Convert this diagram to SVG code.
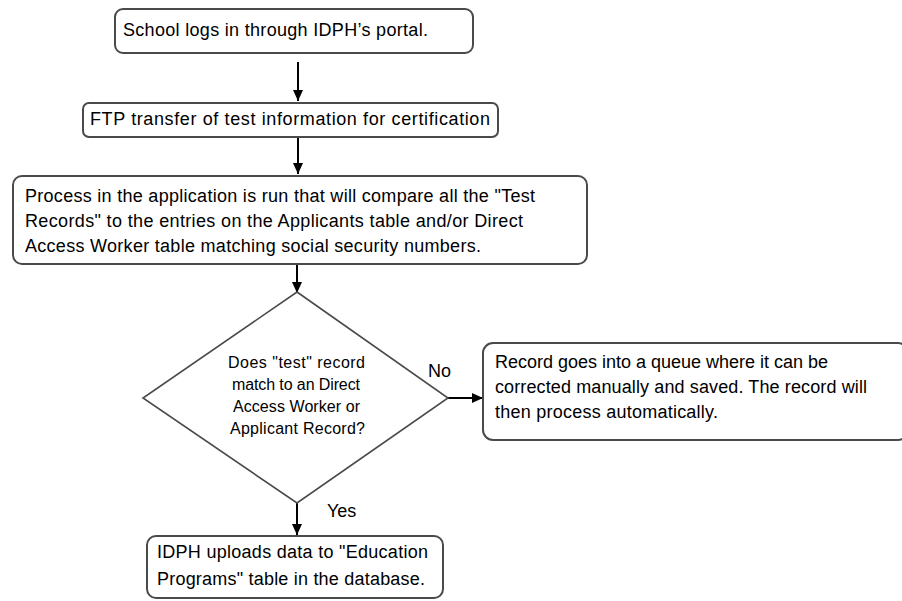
<svg xmlns="http://www.w3.org/2000/svg" width="902" height="601" viewBox="0 0 902 601">
  <style>
    .box { fill: #ffffff; stroke: #4a4a4a; stroke-width: 2; }
    .diamond { fill: #ffffff; stroke: #4a4a4a; stroke-width: 1.6; }
    .txt { font-family: "Liberation Sans", Arial, sans-serif; font-size: 18px; fill: #000000; }
    .small { font-size: 16px; }
    .link { stroke: #000000; stroke-width: 2; fill: none; marker-end: url(#arrow); }
  </style>
  <defs>
    <marker id="arrow" markerWidth="12" markerHeight="12" refX="11" refY="6" orient="auto" markerUnits="userSpaceOnUse">
      <path d="M0,1 L11,6 L0,11 Z" fill="#000000"/>
    </marker>
  </defs>
  <rect width="902" height="601" fill="#ffffff"/>

  <g id="connectors">
    <line class="link" x1="298" y1="62" x2="298" y2="101"/>
    <line class="link" x1="298" y1="137" x2="298" y2="174"/>
    <line class="link" x1="297" y1="265" x2="297" y2="293"/>
    <line class="link" x1="448" y1="398" x2="483" y2="398"/>
    <line class="link" x1="297" y1="503" x2="297" y2="535"/>
    <text class="txt" x="428" y="377">No</text>
    <text class="txt" x="327" y="517">Yes</text>
  </g>

  <g id="login">
    <rect class="box" x="115" y="9" width="358" height="44" rx="8"/>
    <text class="txt" x="123" y="36" textLength="305" lengthAdjust="spacing">School logs in through IDPH’s portal.</text>
  </g>

  <g id="ftp">
    <rect class="box" x="83" y="103" width="415" height="34" rx="6"/>
    <text class="txt" x="90" y="125" textLength="400" lengthAdjust="spacing">FTP transfer of test information for certification</text>
  </g>

  <g id="compare">
    <rect class="box" x="13" y="176" width="574" height="88" rx="9"/>
    <text class="txt" x="25" y="202" textLength="510" lengthAdjust="spacing">Process in the application is run that will compare all the "Test</text>
    <text class="txt" x="25" y="227" textLength="498" lengthAdjust="spacing">Records" to the entries on the Applicants table and/or Direct</text>
    <text class="txt" x="25" y="252" textLength="456" lengthAdjust="spacing">Access Worker table matching social security numbers.</text>
  </g>

  <g id="decision">
    <polygon class="diamond" points="297,292 448,398 297,503 143,398"/>
    <text class="txt small" x="228" y="368" textLength="137" lengthAdjust="spacing">Does "test" record</text>
    <text class="txt small" x="232" y="390" textLength="128" lengthAdjust="spacing">match to an Direct</text>
    <text class="txt small" x="233" y="412" textLength="127" lengthAdjust="spacing">Access Worker or</text>
    <text class="txt small" x="230" y="434" textLength="135" lengthAdjust="spacing">Applicant Record?</text>
  </g>

  <g id="queue">
    <rect class="box" x="483" y="343" width="425" height="97" rx="10"/>
    <text class="txt" x="495" y="368" textLength="333" lengthAdjust="spacing">Record goes into a queue where it can be</text>
    <text class="txt" x="495" y="393" textLength="372" lengthAdjust="spacing">corrected manually and saved.  The record will</text>
    <text class="txt" x="495" y="418" textLength="223" lengthAdjust="spacing">then process automatically.</text>
  </g>

  <g id="upload">
    <rect class="box" x="147" y="536" width="296" height="62" rx="9"/>
    <text class="txt" x="157" y="558" textLength="271" lengthAdjust="spacing">IDPH uploads data to "Education</text>
    <text class="txt" x="157" y="585" textLength="268" lengthAdjust="spacing">Programs" table in the database.</text>
  </g>
</svg>
